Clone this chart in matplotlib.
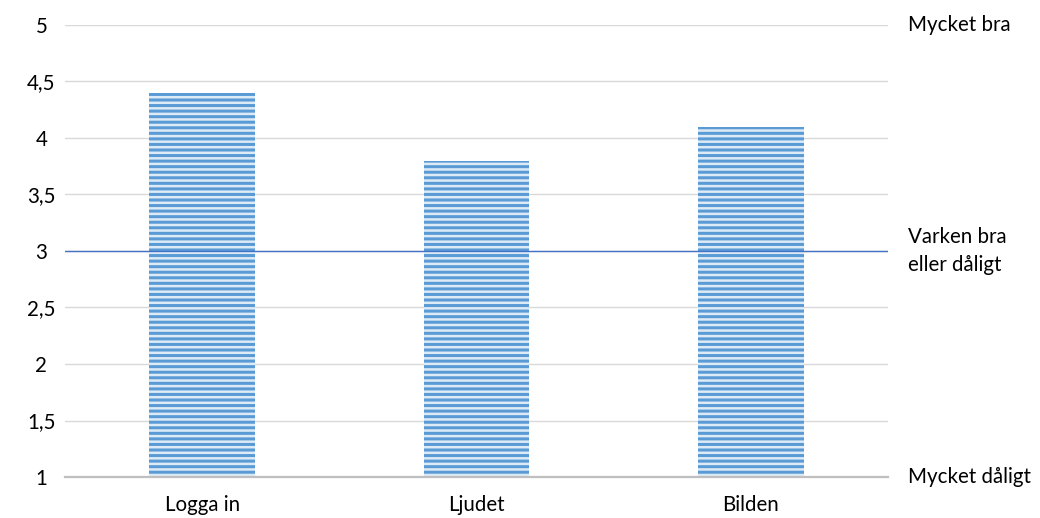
import numpy as np
import matplotlib.pyplot as plt
import matplotlib.transforms as mtransforms

categories = ['Logga in', 'Ljudet', 'Bilden']
scores = [4.4, 3.8, 4.1]
neutral_score = 3.0
scale_labels = ['Mycket bra', 'Varken bra\neller dåligt', 'Mycket dåligt']
scale_values = [5, 3, 1]
yticks = np.arange(1, 5.01, 0.5)

plt.rcParams['font.family'] = ['Lato', 'DejaVu Sans']
plt.rcParams['hatch.linewidth'] = 1.8

fig = plt.figure(figsize=(10.4, 5.18), dpi=100)
ax = fig.add_axes([0.0625, 0.079, 0.7915, 0.873])

x = np.arange(len(categories))
ax.bar(x, scores, width=0.385, color='#5B9BD5', edgecolor='#DDEBF7',
       linewidth=0, hatch='---', zorder=2)

# reference line for the neutral answer
ax.axhline(neutral_score, color='#4472C4', linewidth=1, zorder=3)

ax.set_xlim(-0.5, len(categories) - 0.5)
ax.set_ylim(1, 5)
ax.set_yticks(yticks)
ax.set_yticklabels([f'{v:g}'.replace('.', ',') for v in yticks])
ax.set_xticks(x)
ax.set_xticklabels(categories)

ax.grid(axis='y', color='#D9D9D9', linewidth=1, zorder=0)
ax.set_axisbelow(True)
for side in ['top', 'right', 'left']:
    ax.spines[side].set_visible(False)
ax.spines['bottom'].set_color('#BFBFBF')
ax.spines['bottom'].set_linewidth(1.6)
ax.spines['bottom'].set_zorder(4)

ax.tick_params(axis='both', length=0, labelsize=14.8, colors='black')
ax.tick_params(axis='y', pad=17)
for lbl in ax.get_yticklabels():
    lbl.set_horizontalalignment('center')
ax.tick_params(axis='x', pad=13)

trans = mtransforms.blended_transform_factory(ax.transAxes, ax.transData)
for text, val in zip(scale_labels, scale_values):
    ax.text(1.024, val, text, transform=trans, ha='left', va='center',
            fontsize=14.8, linespacing=1.55)

fig.savefig('out.png', dpi=100, facecolor='white')
